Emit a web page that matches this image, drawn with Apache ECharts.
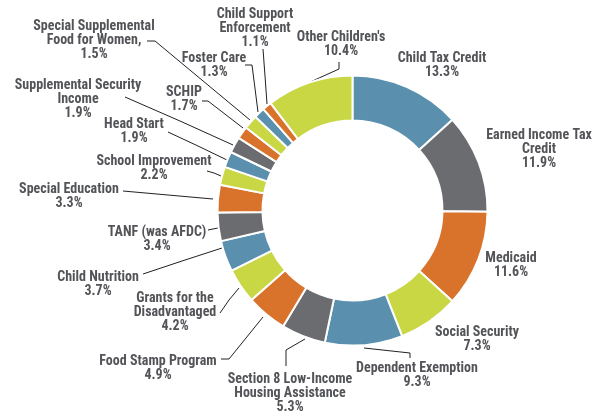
<!DOCTYPE html>
<html>
<head>
<meta charset="utf-8">
<script src="https://cdn.jsdelivr.net/npm/echarts@6/dist/echarts.min.js"></script>
<style>
html,body{margin:0;padding:0;background:#fff;}
#chart{width:597px;height:416px;}
</style>
</head>
<body>
<div id="chart"></div>
<script>
const categories = [
  "Child Tax Credit",
  "Earned Income Tax\nCredit",
  "Medicaid",
  "Social Security",
  "Dependent Exemption",
  "Section 8 Low-Income\nHousing Assistance",
  "Food Stamp Program",
  "Grants for the\nDisadvantaged",
  "Child Nutrition",
  "TANF (was AFDC)",
  "Special Education",
  "School Improvement",
  "Head Start",
  "Supplemental Security\nIncome",
  "Special Supplemental\nFood for Women,",
  "SCHIP",
  "Foster Care",
  "Child Support\nEnforcement",
  "Other Children's"
];
const values = [13.3, 11.9, 11.6, 7.3, 9.3, 5.3, 4.9, 4.2, 3.7, 3.4, 3.3, 2.2, 1.9, 1.9, 1.5, 1.7, 1.3, 1.1, 10.4];

const BLUE = '#5a8fae', GRAY = '#6b6c70', ORANGE = '#d9732c', LIME = '#c9d745';
const sliceColors = [BLUE, GRAY, ORANGE, LIME, BLUE, GRAY, ORANGE, LIME, BLUE, GRAY, ORANGE, LIME, BLUE, GRAY, ORANGE, LIME, BLUE, ORANGE, LIME];

// label block centres (px)
const labelPos = [
  [442, 65], [539, 149.5], [511, 265], [477, 339], [417, 375],
  [290, 393], [158, 368], [175, 312], [98, 284], [157, 239],
  [69, 196], [154, 168], [134, 131], [78, 99], [94, 40.5],
  [184, 99.5], [214, 65], [255, 28], [341, 44.5]
];
// leader lines: [on ring, elbow, at label]
const leaders = [
  null, null, null, null,
  [[364,348],[410,353],[410,358]],
  [[305,339],[286,350],[286,366]],
  [[263,317],[229,359],[221,359]],
  [[239,288],[229,300],[220,313]],
  [[222,248],[182,261],[143,274]],
  [[218,228],[213,229],[208,230]],
  [[213,199],[168,195],[123,191]],
  [[221,176],[214,173],[207,171]],
  [[227,160],[198,146],[168,132]],
  [[233,145],[180,121],[125,97]],
  [[250,120],[155,41],[147,41]],
  [[243,128],[208,101],[202,101]],
  [[258,112],[252,65],[245,65]],
  [[267,104],[265,76],[263,49]],
  [[308,83],[339,69],[339,62]]
];

const data = categories.map((c, i) => ({
  name: c,
  value: values[i],
  itemStyle: { color: sliceColors[i] },
  labelLine: { show: !!leaders[i] }
}));

const chart = echarts.init(document.getElementById('chart'), null, { renderer: 'canvas' });
chart.setOption({
  animation: false,
  backgroundColor: '#fff',
  series: [{
    type: 'pie',
    center: [352.5, 210.5],
    radius: [90, 135],
    startAngle: 90,
    clockwise: true,
    avoidLabelOverlap: false,
    itemStyle: { borderColor: '#fff', borderWidth: 2 },
    label: {
      show: true,
      position: 'outside',
      formatter: p => p.name + '\n' + p.value.toFixed(1) + '%',
      fontFamily: '"Roboto Condensed", "DejaVu Sans Condensed", sans-serif',
      fontWeight: 'bold',
      fontSize: 14,
      lineHeight: 14,
      color: '#535458',
      align: 'center'
    },
    labelLine: { show: true, lineStyle: { color: '#222', width: 1 } },
    labelLayout: function (params) {
      const i = params.dataIndex;
      const p = labelPos[i];
      const o = { x: p[0], y: p[1], align: 'center', verticalAlign: 'middle' };
      if (leaders[i]) o.labelLinePoints = leaders[i];
      return o;
    },
    data: data
  }]
});
</script>
</body>
</html>
